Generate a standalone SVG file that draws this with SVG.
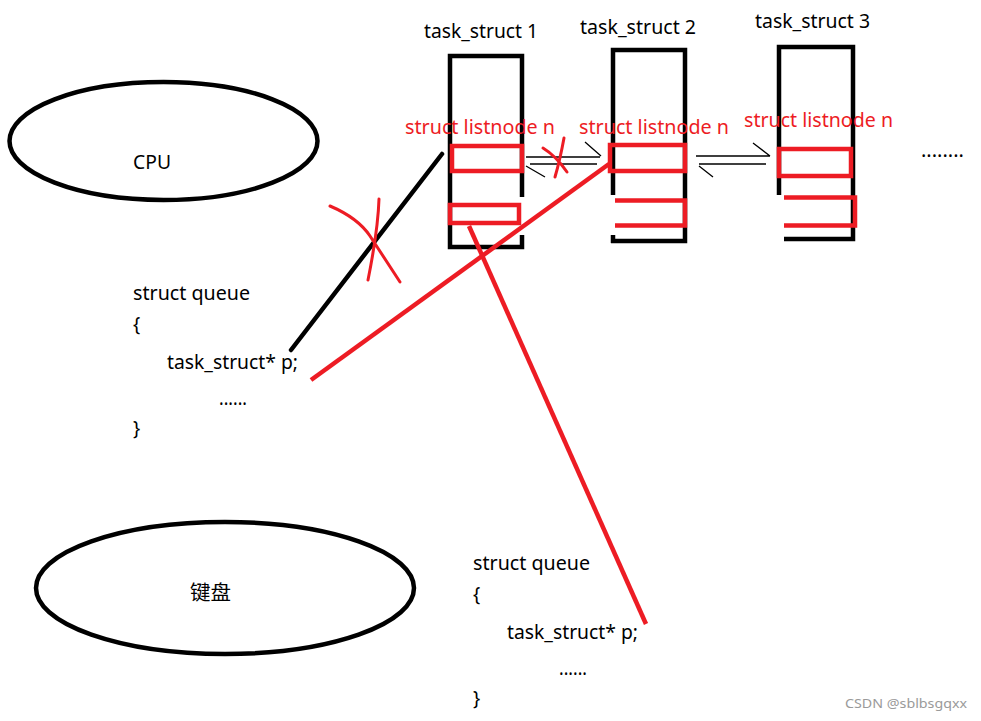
<svg xmlns="http://www.w3.org/2000/svg" width="981" height="721" viewBox="0 0 981 721">
<style>
text{font-family:"Noto Sans","Noto Sans CJK SC",sans-serif;font-size:19px;fill:#000}
.red{fill:#ED1C24}
.blk{fill:none;stroke:#000;stroke-width:4.5}
.rs{fill:none;stroke:#ED1C24;stroke-width:4.5}
.thin{fill:none;stroke:#000;stroke-width:1.3}
.rx{fill:none;stroke:#ED1C24;stroke-width:3;stroke-linecap:round}
.wm{font-size:13px;fill:#9a9a9a}
</style>
<rect width="981" height="721" fill="#fff"/>
<g id="cpu">
<ellipse cx="163.5" cy="141" rx="154" ry="59" class="blk"/>
<text x="133" y="169" style="font-size:20px" textLength="38" lengthAdjust="spacingAndGlyphs">CPU</text>
</g>
<g id="keyboard">
<ellipse cx="225" cy="588" rx="189" ry="66" class="blk"/>
<text x="190" y="600" style="font-size:20px" textLength="41" lengthAdjust="spacingAndGlyphs">键盘</text>
</g>
<g id="task1">
<text x="424" y="38" textLength="114" lengthAdjust="spacingAndGlyphs">task_struct 1</text>
<path class="blk" d="M522,197 V56 H450 V247 H522 V235"/>
<rect class="rs" x="452" y="146" width="70" height="25"/>
<rect class="rs" x="450" y="205" width="69" height="18"/>
<text class="red" x="405" y="134" textLength="150" lengthAdjust="spacingAndGlyphs">struct listnode n</text>
</g>
<g id="task2">
<text x="580" y="34" textLength="116" lengthAdjust="spacingAndGlyphs">task_struct 2</text>
<path class="blk" d="M613,195 V50 H685 V241 H611 M613,235 V243"/>
<rect class="rs" x="610" y="145" width="75" height="26"/>
<path class="rs" d="M615,200.5 H685 V225.5 H615"/>
<text class="red" x="579" y="134" textLength="150" lengthAdjust="spacingAndGlyphs">struct listnode n</text>
</g>
<g id="task3">
<text x="755" y="28" textLength="115" lengthAdjust="spacingAndGlyphs">task_struct 3</text>
<path class="blk" d="M779,195 V47 H853 V239 H784"/>
<rect class="rs" x="779" y="149" width="72" height="27"/>
<path class="rs" d="M784,197.5 H855 V225.5 H784"/>
<text class="red" x="744" y="127" textLength="149" lengthAdjust="spacingAndGlyphs">struct listnode n</text>
</g>
<g id="more">
<text x="921" y="157" textLength="43" lengthAdjust="spacingAndGlyphs">........</text>
</g>
<g id="queue1">
<text x="133" y="300" textLength="117" lengthAdjust="spacingAndGlyphs">struct queue</text>
<text x="133" y="331">{</text>
<text x="167" y="369" textLength="131" lengthAdjust="spacingAndGlyphs">task_struct* p;</text>
<text x="219" y="405" textLength="28" lengthAdjust="spacingAndGlyphs">......</text>
<text x="133" y="435">}</text>
</g>
<g id="queue2">
<text x="473" y="570" textLength="117" lengthAdjust="spacingAndGlyphs">struct queue</text>
<text x="473" y="601">{</text>
<text x="507" y="639" textLength="131" lengthAdjust="spacingAndGlyphs">task_struct* p;</text>
<text x="559" y="675" textLength="28" lengthAdjust="spacingAndGlyphs">......</text>
<text x="473" y="705">}</text>
</g>
<g id="connectors">
<path class="thin" d="M526,157 H600 M585,142 L601,156 M530,164 H597 M526,166 L545,177"/>
<path class="thin" d="M696,156 H770 M753,143 L770,156 M699,164 H766 M699,166 L713,177"/>
<path d="M442,154 L291,350" stroke="#000" stroke-width="4.5" stroke-linecap="round" fill="none"/>
<path d="M609,164 L311,380" stroke="#ED1C24" stroke-width="4.5" fill="none"/>
<path d="M469,226 L646,624" stroke="#ED1C24" stroke-width="4.5" fill="none"/>
<path class="rx" d="M330,206 Q358,218 370,236 L400,282 M379,199 Q378,230 368,280"/>
<path class="rx" d="M543,148 Q556,156 567,172 M564,138 Q560,160 555,177"/>
</g>
<text class="wm" x="845" y="708" textLength="122" lengthAdjust="spacingAndGlyphs">CSDN @sblbsgqxx</text>
</svg>
